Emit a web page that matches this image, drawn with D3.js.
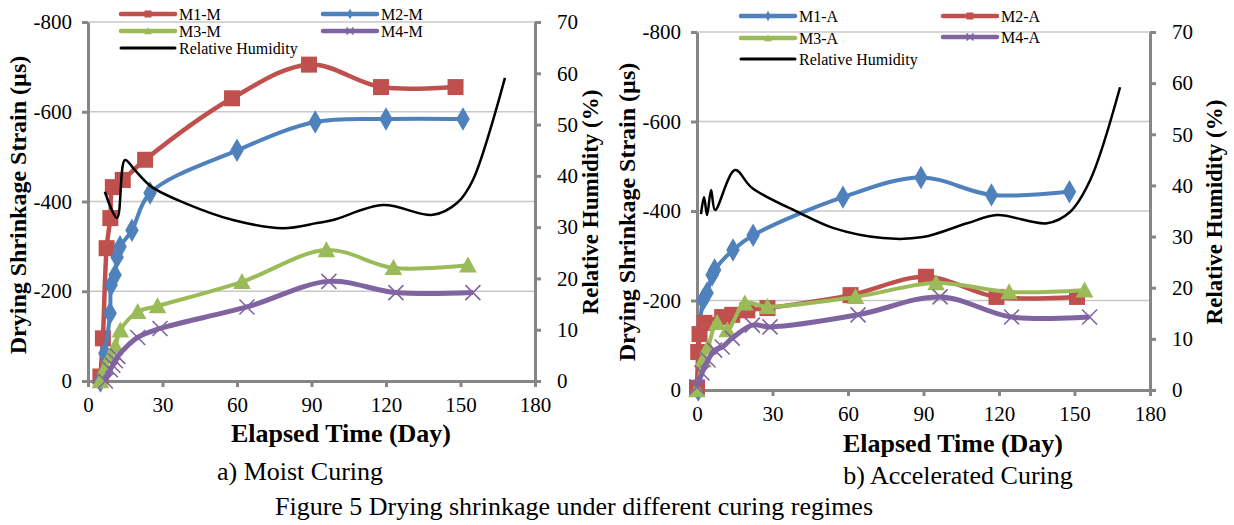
<!DOCTYPE html>
<html>
<head>
<meta charset="utf-8">
<script src="https://cdn.jsdelivr.net/npm/d3@7"></script>
<style>
    body { margin: 0; background: #fff; }
    svg, svg text { font-family: "Liberation Serif", "DejaVu Serif", "Times New Roman", serif !important; }
</style>
</head>
<body>
<svg id="fig" width="1234" height="525" font-family="Liberation Serif, DejaVu Serif, serif"></svg>
<script>
"use strict";

// ---- datos: curado humedo (a) ----
const m1mDia = [5, 6, 7.5, 9, 10, 14, 23, 58, 89, 118, 148];
const m1mDef = [-10, -95, -296, -363, -432, -448, -493, -630, -705, -655, -655];
const m2mDia = [5, 6.8, 8.9, 9.3, 10.9, 11.7, 12.9, 17.7, 25, 60, 91.5, 120, 151];
const m2mDef = [0, -62, -151, -214, -236, -276, -299, -336, -419, -514, -577, -584, -584];
const m3mDia = [5, 7, 9, 11, 13, 20, 28, 62, 96, 123, 153];
const m3mDef = [0, -30, -55, -78, -113, -154, -167, -221, -292, -252, -258];
const m4mDia = [7, 9, 10, 11, 12, 20, 29, 64, 97, 124, 155];
const m4mDef = [0, -25, -35, -45, -55, -97, -117, -165, -222, -197, -197];
const hrmDia = [6.8, 11.7, 14.9, 18.9, 25.8, 39, 58.4, 78.5, 92.2, 98.7, 118.8, 138.9, 148.6, 155, 167.9];
const hrmVal = [36.9, 31.8, 43.1, 41.1, 37.8, 34.7, 31.4, 29.8, 30.8, 31.4, 34.3, 32.4, 34.7, 39.2, 59.1];

// ---- datos: curado acelerado (b) ----
const m1aDia = [0.5, 2.4, 4, 6, 7, 14.3, 22.3, 58, 89, 117, 148];
const m1aDef = [0, -201, -217, -257, -268, -313, -346, -431, -475, -436, -443];
const m2aDia = [0, 0.5, 1, 3, 10, 14, 20, 28, 61, 91, 119, 151];
const m2aDef = [-5, -85, -125, -150, -163, -168, -178, -183, -212, -253, -208, -208];
const m3aDia = [0, 2.4, 4.4, 8, 12, 19, 28, 63, 95, 124, 154];
const m3aDef = [0, -67, -96, -150, -134, -194, -186, -208, -239, -219, -223];
const m4aDia = [0, 2, 4.4, 7, 10, 14, 22, 29, 64, 96.6, 125, 156];
const m4aDef = [-7, -38, -67, -89, -96, -116, -145, -141, -168, -208, -163, -163];
const hraDia = [1.6, 2.8, 4, 5.6, 7.2, 15.1, 21.9, 40.9, 54, 73.9, 89.8, 107.3, 119.2, 139.1, 148.2, 156.2, 168.1];
const hraVal = [34.4, 37.7, 34.2, 39.1, 35.2, 43, 39.5, 34.6, 31.7, 29.7, 29.9, 32.6, 34.2, 32.6, 34.8, 41, 59.2];

// ---- ejes ----
const ticksDias = [0, 30, 60, 90, 120, 150, 180];
const ticksDef = [0, -200, -400, -600, -800];
const ticksHr = [0, 10, 20, 30, 40, 50, 60, 70];

const colores = { rojo: "#C0504D", azul: "#4F81BD", verde: "#9BBB59", morado: "#8064A2" };
const gris = "#868686";
const fuente = "'Liberation Serif', 'DejaVu Serif', serif";

const svg = d3.select("#fig");

function unir(dias, vals) {
    return dias.map((d, i) => ({ x: d, y: vals[i] }));
}

function dibujarMarcador(g, tipo, color, tam) {
    if (tipo == "square") {
        g.append("rect").attr("x", -tam / 2).attr("y", -tam / 2)
            .attr("width", tam).attr("height", tam).attr("fill", color);
    } else if (tipo == "diamond") {
        g.append("path").attr("d", d3.symbol(d3.symbolDiamond, tam * tam * 0.62)()).attr("fill", color);
    } else if (tipo == "triangle") {
        let h = tam;
        g.append("path")
            .attr("d", "M0," + (-h * 0.55) + "L" + (h * 0.55) + "," + (h * 0.45) + "L" + (-h * 0.55) + "," + (h * 0.45) + "Z")
            .attr("fill", color);
    } else if (tipo == "x") {
        let r = tam / 2;
        g.append("path").attr("d", "M" + (-r) + "," + (-r) + "L" + r + "," + r + "M" + (-r) + "," + r + "L" + r + "," + (-r))
            .attr("stroke", color).attr("stroke-width", 1.6).attr("fill", "none");
    }
}

function texto(sel, tam, negrita) {
    return sel.style("font-family", fuente).style("font-size", tam + "px")
        .style("font-weight", negrita ? "bold" : "normal").attr("fill", "#000");
}

function dibujarPanel(cfg) {
    const x = d3.scaleLinear().domain([0, 180]).range([cfg.left, cfg.right]);
    const y = d3.scaleLinear().domain([0, -800]).range([cfg.bottom, cfg.top]);
    const yh = d3.scaleLinear().domain([0, 70]).range([cfg.bottom, cfg.top]);
    const panel = svg.append("g");

    // lineas de cuadricula
    panel.selectAll(".grid").data(ticksDef.filter(v => v != 0)).enter()
        .append("line")
        .attr("x1", cfg.left).attr("x2", cfg.right)
        .attr("y1", d => y(d)).attr("y2", d => y(d))
        .attr("stroke", "#C8C8C8").attr("stroke-width", 1.5);

    const estiloEje = (g) => {
        g.attr("font-family", null).attr("font-size", null);
        g.select(".domain").attr("stroke", gris).attr("stroke-width", 3);
        g.selectAll(".tick line").attr("stroke", gris).attr("stroke-width", 3);
        texto(g.selectAll("text"), 21, false);
    };

    panel.append("g").attr("transform", "translate(0," + cfg.bottom + ")")
        .call(d3.axisBottom(x).tickValues(ticksDias).tickSize(6).tickSizeOuter(0).tickPadding(10).tickFormat(d => d))
        .call(estiloEje);
    panel.append("g").attr("transform", "translate(" + cfg.left + ",0)")
        .call(d3.axisLeft(y).tickValues(ticksDef).tickSize(6).tickSizeOuter(0).tickPadding(10).tickFormat(d => d))
        .call(estiloEje);
    panel.append("g").attr("transform", "translate(" + cfg.right + ",0)")
        .call(d3.axisRight(yh).tickValues(ticksHr).tickSize(6).tickSizeOuter(0).tickPadding(16).tickFormat(d => d))
        .call(estiloEje);

    // series
    const linea = d3.line().x(d => x(d.x)).y(d => y(d.y)).curve(d3.curveCatmullRom.alpha(0.5));
    cfg.series.forEach(s => {
        const datos = unir(s.dias, s.vals);
        panel.append("path").datum(datos)
            .attr("d", linea)
            .attr("fill", "none").attr("stroke", s.color).attr("stroke-width", s.ancho);
        panel.selectAll(null).data(datos).enter()
            .append("g")
            .attr("transform", d => "translate(" + x(d.x) + "," + y(d.y) + ")")
            .each(function () { dibujarMarcador(d3.select(this), s.marca, s.color, s.tam); });
    });

    const lineaHr = d3.line().x(d => x(d.x)).y(d => yh(d.y)).curve(d3.curveCatmullRom.alpha(0.5));
    panel.append("path").datum(unir(cfg.hr.dias, cfg.hr.vals))
        .attr("d", lineaHr)
        .attr("fill", "none").attr("stroke", "#000").attr("stroke-width", 2.5);

    // titulos de ejes
    texto(panel.append("text"), 24, true)
        .attr("transform", "translate(" + cfg.tituloY[0] + "," + cfg.tituloY[1] + ") rotate(-90)")
        .attr("text-anchor", "middle")
        .text("Drying Shrinkage Strain (µs)");
    texto(panel.append("text"), 23, true)
        .attr("transform", "translate(" + cfg.tituloHr[0] + "," + cfg.tituloHr[1] + ") rotate(-90)")
        .attr("text-anchor", "middle")
        .text("Relative Humidity (%)");
    texto(panel.append("text"), 26, true)
        .attr("x", cfg.tituloX[0]).attr("y", cfg.tituloX[1])
        .attr("text-anchor", "middle")
        .text("Elapsed Time (Day)");

    // leyenda
    const items = cfg.series.map((s, i) => ({ s: s, pos: cfg.leyenda[i] }));
    items.push({ s: { nombre: "Relative Humidity", color: "#000", marca: null, ancho: 3 }, pos: cfg.leyenda[4] });
    const ley = panel.selectAll(".leyenda").data(items).enter()
        .append("g").attr("class", "leyenda")
        .attr("transform", d => "translate(" + d.pos[0] + "," + d.pos[1] + ")");
    ley.append("line").attr("x1", 0).attr("x2", 54).attr("y1", 0).attr("y2", 0)
        .attr("stroke", d => d.s.color).attr("stroke-width", d => d.s.marca ? 4.5 : 3)
        .attr("stroke-linecap", "round");
    ley.each(function (d) {
        if (d.s.marca) {
            let m = d3.select(this).append("g").attr("transform", "translate(27,0)");
            dibujarMarcador(m, d.s.marca, d.s.color, 7);
        }
    });
    texto(ley.append("text"), 16, false).attr("x", 58).attr("dy", "0.35em")
        .text(d => d.s.nombre);

    texto(panel.append("text"), 26, false)
        .attr("x", cfg.subtitulo[0]).attr("y", cfg.subtitulo[1])
        .attr("text-anchor", "middle")
        .text(cfg.subtitulo[2]);
}

dibujarPanel({
    left: 88, right: 535, top: 22, bottom: 381,
    series: [
        { nombre: "M1-M", dias: m1mDia, vals: m1mDef, color: colores.rojo, marca: "square", tam: 16, ancho: 4.5 },
        { nombre: "M2-M", dias: m2mDia, vals: m2mDef, color: colores.azul, marca: "diamond", tam: 16, ancho: 4 },
        { nombre: "M3-M", dias: m3mDia, vals: m3mDef, color: colores.verde, marca: "triangle", tam: 16, ancho: 4 },
        { nombre: "M4-M", dias: m4mDia, vals: m4mDef, color: colores.morado, marca: "x", tam: 15, ancho: 5 }
    ],
    hr: { dias: hrmDia, vals: hrmVal },
    leyenda: [[121, 14], [323, 14], [121, 31], [323, 31], [121, 48]],
    tituloY: [26, 205], tituloHr: [598, 202], tituloX: [341, 442],
    subtitulo: [300, 480, "a) Moist Curing"]
});

dibujarPanel({
    left: 697, right: 1150, top: 32, bottom: 390,
    series: [
        { nombre: "M1-A", dias: m1aDia, vals: m1aDef, color: colores.azul, marca: "diamond", tam: 16, ancho: 4 },
        { nombre: "M2-A", dias: m2aDia, vals: m2aDef, color: colores.rojo, marca: "square", tam: 16, ancho: 4.5 },
        { nombre: "M3-A", dias: m3aDia, vals: m3aDef, color: colores.verde, marca: "triangle", tam: 16, ancho: 4 },
        { nombre: "M4-A", dias: m4aDia, vals: m4aDef, color: colores.morado, marca: "x", tam: 15, ancho: 5 }
    ],
    hr: { dias: hraDia, vals: hraVal },
    leyenda: [[741, 16], [943, 16], [741, 38], [943, 37], [741, 59]],
    tituloY: [635, 212], tituloHr: [1222, 212], tituloX: [953, 452],
    subtitulo: [958, 484, "b) Accelerated Curing"]
});

texto(svg.append("text"), 26, false)
    .attr("x", 574).attr("y", 515)
    .attr("text-anchor", "middle")
    .text("Figure 5 Drying shrinkage under different curing regimes");
</script>
</body>
</html>
